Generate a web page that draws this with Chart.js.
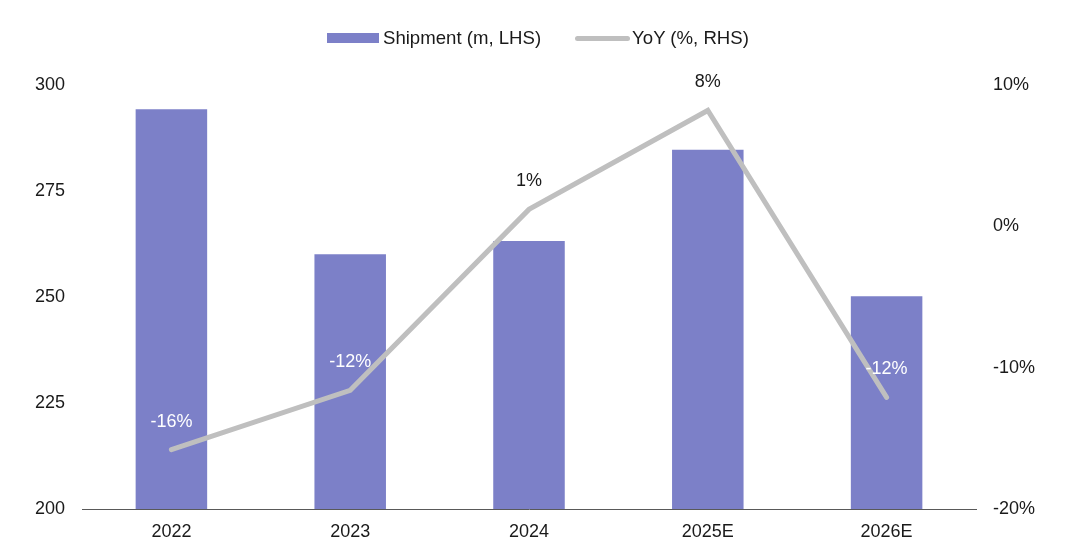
<!DOCTYPE html>
<html>
<head>
<meta charset="utf-8">
<script src="https://cdn.jsdelivr.net/npm/chart.js@4.4.1/dist/chart.umd.min.js"></script>
<style>
  body { margin: 0; background: #fff; font-family: "Liberation Sans", Arial, sans-serif; }
  #wrap { position: relative; width: 1073px; height: 557px; }
  #legend { position: absolute; top: 26px; left: 327px; height: 24px; display: flex; align-items: center; font-size: 18.6px; color: #1a1a1a; }
  .swatch-bar { width: 52px; height: 10px; background: #7c80c8; margin-right: 4px; }
  .swatch-line { width: 55px; height: 5px; border-radius: 3px; background: #bfbfbf; margin-left: 34px; margin-right: 2px; }
</style>
</head>
<body>
<div id="wrap">
  <canvas id="shipChart" width="1073" height="557"></canvas>
  <div id="legend">
    <div class="swatch-bar"></div><span>Shipment (m, LHS)</span>
    <div class="swatch-line"></div><span>YoY (%, RHS)</span>
  </div>
</div>
<script>
// Shipments and growth rates
const years = ['2022', '2023', '2024', '2025E', '2026E'];
const shipments = [294.3, 260.1, 263.2, 284.7, 250.2];
const yoyGrowth = [-15.8, -11.6, 1.2, 8.2, -12.1];
const leftTicks = [200, 225, 250, 275, 300];
const rightTicks = [-20, -10, 0, 10];

const barColor = '#7c80c8';
const lineColor = '#bfbfbf';
const textColor = '#1a1a1a';
const font = { family: '"Liberation Sans", Arial, sans-serif', size: 18 };

// Writes the YoY value above each line vertex; white when it sits on a bar
const yoyLabels = {
    id: 'yoyLabels',
    afterDatasetsDraw(chart) {
        const ctx = chart.ctx;
        const lineMeta = chart.getDatasetMeta(1);
        const barMeta = chart.getDatasetMeta(0);
        ctx.save();
        ctx.font = font.size + 'px ' + font.family;
        ctx.textAlign = 'center';
        ctx.textBaseline = 'middle';
        lineMeta.data.forEach((pt, i) => {
            const y = pt.y - 28;
            const bar = barMeta.data[i];
            ctx.fillStyle = y > bar.y ? '#ffffff' : textColor;
            ctx.fillText(Math.round(yoyGrowth[i]) + '%', pt.x, y);
        });
        ctx.restore();
    }
};

const ctx = document.getElementById('shipChart').getContext('2d');
const shipChart = new Chart(ctx, {
    type: 'bar',
    data: {
        labels: years,
        datasets: [{
            label: 'Shipment (m, LHS)',
            data: shipments,
            backgroundColor: barColor,
            yAxisID: 'y',
            categoryPercentage: 1,
            barPercentage: 0.4,
            order: 1
        }, {
            type: 'line',
            label: 'YoY (%, RHS)',
            data: yoyGrowth,
            borderColor: lineColor,
            borderWidth: 5,
            borderCapStyle: 'round',
            pointRadius: 0,
            yAxisID: 'y1',
            order: 0
        }]
    },
    options: {
        responsive: false,
        animation: false,
        layout: { padding: { top: 85, bottom: 0, left: 0, right: 0 } },
        plugins: {
            legend: { display: false },
            tooltip: { enabled: false }
        },
        scales: {
            x: {
                grid: { display: false },
                border: { display: true, color: '#595959', width: 1 },
                ticks: { color: textColor, font: font, padding: 4 },
                afterFit(scale) { scale.height = 48; }
            },
            y: {
                position: 'left',
                min: 200,
                max: 300,
                grid: { display: false, drawTicks: false },
                border: { display: false },
                afterBuildTicks(scale) { scale.ticks = leftTicks.map(v => ({ value: v })); },
                ticks: { color: textColor, font: font, padding: 17 },
                afterFit(scale) { scale.width = 82; }
            },
            y1: {
                position: 'right',
                min: -20,
                max: 10,
                grid: { display: false, drawTicks: false },
                border: { display: false },
                afterBuildTicks(scale) { scale.ticks = rightTicks.map(v => ({ value: v })); },
                ticks: { color: textColor, font: font, padding: 17, callback: v => v + '%' },
                afterFit(scale) { scale.width = 97; }
            }
        }
    },
    plugins: [yoyLabels]
});
</script>
</body>
</html>
